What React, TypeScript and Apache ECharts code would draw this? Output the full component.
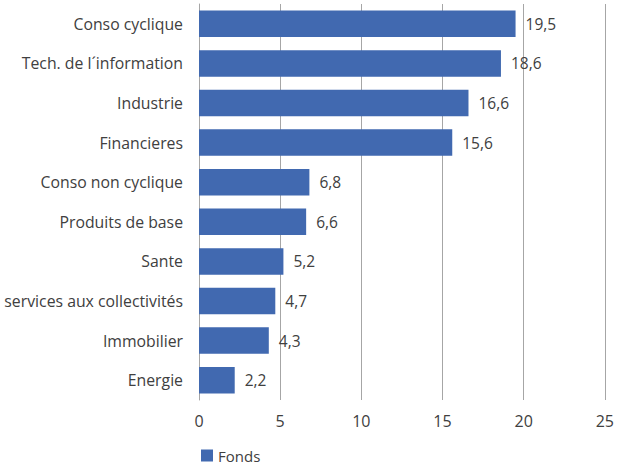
import React, { useEffect, useRef } from "react";
import * as echarts from "echarts";

const categories = [
  "Conso cyclique",
  "Tech. de l´information",
  "Industrie",
  "Financieres",
  "Conso non cyclique",
  "Produits de base",
  "Sante",
  "services aux collectivités",
  "Immobilier",
  "Energie",
];
const values = [19.5, 18.6, 16.6, 15.6, 6.8, 6.6, 5.2, 4.7, 4.3, 2.2];
const seriesName = "Fonds";
const xTicks = { min: 0, max: 25, interval: 5 };

const FONT = "'Open Sans', 'Noto Sans', sans-serif";

export default function App() {
  const ref = useRef<HTMLDivElement>(null);
  useEffect(() => {
    if (!ref.current) return;
    const chart = echarts.init(ref.current, null, { renderer: "svg" });
    chart.setOption({
      animation: false,
      textStyle: { fontFamily: FONT },
      grid: { left: 199, right: 11, top: 4, bottom: 71, containLabel: false },
      legend: {
        left: 196,
        bottom: 3,
        itemWidth: 12,
        itemHeight: 12,
        icon: "rect",
        itemGap: 8,
        textStyle: { fontSize: 15, color: "#404040", fontFamily: FONT },
        data: [seriesName],
      },
      xAxis: {
        type: "value",
        min: xTicks.min,
        max: xTicks.max,
        interval: xTicks.interval,
        axisLine: { show: false },
        axisTick: { show: false },
        splitLine: { show: true, lineStyle: { color: "#a6a6a6", width: 1 } },
        axisLabel: { fontSize: 16, color: "#404040", margin: 13, fontFamily: FONT },
      },
      yAxis: {
        type: "category",
        inverse: true,
        data: categories,
        axisLine: { show: true, lineStyle: { color: "#a6a6a6", width: 1 } },
        axisTick: { show: false },
        axisLabel: { fontSize: 15.8, color: "#404040", margin: 16, fontFamily: FONT },
      },
      series: [
        {
          name: seriesName,
          type: "bar",
          data: values,
          barCategoryGap: "33%",
          itemStyle: { color: "#4169B0" },
          label: {
            show: true,
            position: "right",
            distance: 10,
            fontSize: 15.5,
            color: "#404040",
            fontFamily: FONT,
            formatter: (p: any) => String(p.value).replace(".", ","),
          },
        },
      ],
    });
    return () => chart.dispose();
  }, []);
  return <div ref={ref} style={{ width: 617, height: 471, position: "absolute", left: 0, top: 0 }} />;
}
